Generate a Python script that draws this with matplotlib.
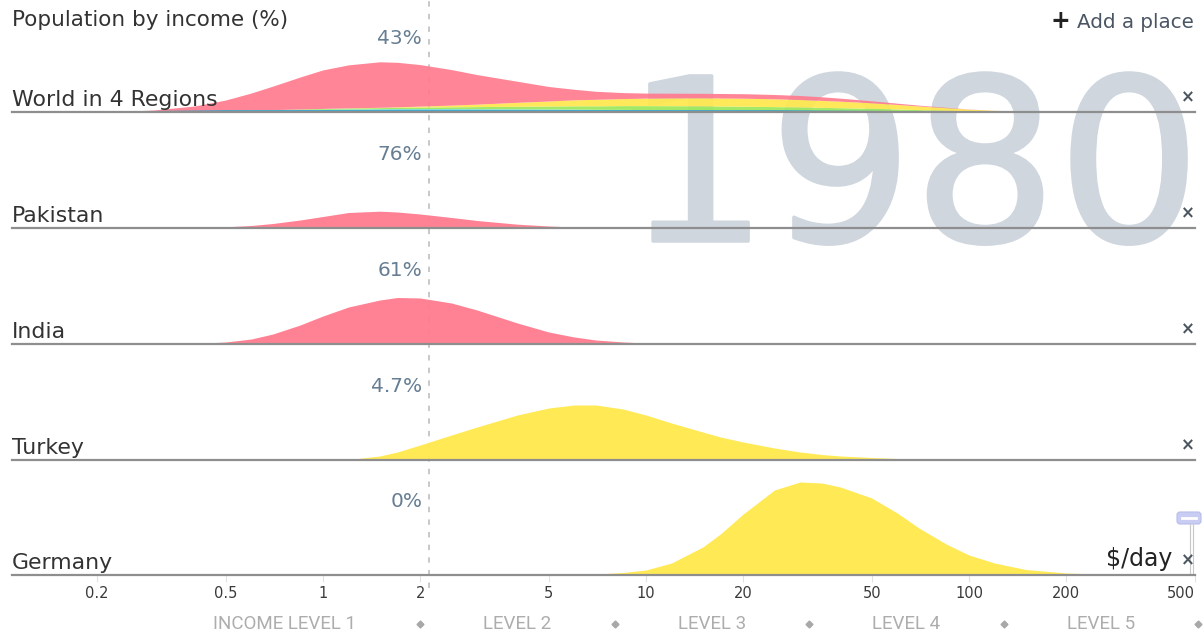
import numpy as np
import matplotlib
matplotlib.use("Agg")
import matplotlib.pyplot as plt
import matplotlib.patheffects as pe
from matplotlib.patches import FancyBboxPatch

plt.rcParams["font.family"] = ["DejaVu Sans"]

# income grid, $/day (log scale)
INCOME = [0.15, 0.2, 0.25, 0.3, 0.4, 0.5, 0.6, 0.7, 0.85, 1, 1.2, 1.5, 1.7, 2, 2.5, 3, 4, 5, 6, 7,
          8.5, 10, 12, 15, 17, 20, 25, 30, 35, 40, 50, 60, 70, 85, 100, 120, 150, 200, 300, 500]

# World in 4 Regions, stacked bottom -> top
WORLD_AFRICA = [0, 0, 0.1, 0.3, 0.8, 1.3, 1.7, 2, 2.4, 2.7, 3, 3.2, 3.3, 3.3, 3.3, 3.2, 3.1, 3, 2.9, 2.7,
                2.6, 2.4, 2.2, 2, 1.8, 1.6, 1.3, 1, 0.8, 0.7, 0.5, 0.3, 0.2, 0.1, 0, 0, 0, 0, 0, 0]
WORLD_AMERICAS = [0, 0, 0, 0, 0, 0.2, 0.3, 0.4, 0.6, 0.8, 1, 1.2, 1.4, 1.6, 1.9, 2.2, 2.6, 3, 3.3, 3.5,
                  3.8, 4, 4.1, 4.2, 4.2, 4.2, 4.1, 4, 3.8, 3.6, 3.2, 2.7, 2.2, 1.7, 1.2, 0.8, 0.4, 0.1, 0, 0]
WORLD_EUROPE = [0, 0, 0, 0, 0, 0, 0, 0, 0, 0.1, 0.15, 0.3, 0.5, 1, 1.7, 2.5, 4, 5, 6, 6.5,
                7, 7.5, 7.8, 8, 8, 8, 7.8, 7.5, 7, 6.5, 5.5, 4.5, 3.6, 2.5, 1.6, 0.9, 0.4, 0.1, 0, 0]
WORLD_ASIA = [0, 0.5, 0.9, 1.7, 5.2, 10.5, 17, 23.5, 32, 38.5, 43, 45.5, 44.5, 41.5, 35.5, 29.5, 21, 14.5, 10.5, 8,
              6, 5, 4.7, 4.5, 4.5, 4.5, 4.3, 4, 3.6, 3, 2, 1.3, 0.8, 0.4, 0.2, 0, 0, 0, 0, 0]

PAKISTAN = [0, 0, 0, 0.1, 0.5, 1.2, 2.5, 4.5, 8, 11.5, 15.5, 16.8, 16, 14, 10.5, 7.5, 3.8, 2, 1, 0.6,
            0.3, 0.1, 0, 0, 0, 0, 0, 0, 0, 0, 0, 0, 0, 0, 0, 0, 0, 0, 0, 0]
INDIA = [0, 0, 0, 0, 0.5, 2, 5, 10, 19, 28, 37, 44, 46.5, 46, 41, 34, 21, 12, 7, 4,
         2, 1, 0.4, 0.1, 0, 0, 0, 0, 0, 0, 0, 0, 0, 0, 0, 0, 0, 0, 0, 0]
TURKEY = [0, 0, 0, 0, 0, 0, 0, 0, 0, 0, 0.5, 4, 8, 15, 25, 33, 45, 52, 55, 55,
          51, 45, 37, 28, 23, 18, 12, 8, 5.5, 4, 2.5, 1.5, 1, 0.5, 0.2, 0.1, 0, 0, 0, 0]
GERMANY = [0, 0, 0, 0, 0, 0, 0, 0, 0, 0, 0, 0, 0, 0, 0, 0, 0, 0, 0.5, 1,
           2.5, 5, 12, 28, 41, 61, 85, 93, 92, 88, 77, 62, 47, 31, 20, 12, 5.5, 2, 0.3, 0]

ROW_NAMES = ["World in 4 Regions", "Pakistan", "India", "Turkey", "Germany"]
ROW_PCT = ["43%", "76%", "61%", "4.7%", "0%"]

TICKS = [0.2, 0.5, 1, 2, 5, 10, 20, 50, 100, 200, 500]
TICK_LABELS = ["0.2", "0.5", "1", "2", "5", "10", "20", "50", "100", "200", "500"]
LEVEL_MARKS = [2, 8, 32, 128, 512]
LEVEL_POS = [0.76, 4, 16, 64, 256]
LEVEL_LABELS = ["INCOME LEVEL 1", "LEVEL 2", "LEVEL 3", "LEVEL 4", "LEVEL 5"]
POVERTY_LINE = 2.13
YEAR = "1980"

PINK, YELLOW, GREEN, CYAN = "#ff7b8e", "#ffe84c", "#9be85a", "#55d2ea"

W, H = 1204, 635
fig = plt.figure(figsize=(W / 100, H / 100), dpi=100)
fig.patch.set_facecolor("white")


def px_axes(left, top, width, height, **kw):
    return fig.add_axes([left / W, 1 - (top + height) / H, width / W, height / H], **kw)


XL, XR = 12, 1195
XLIM = (0.109, 501)
ROW_H = 105
baselines = [112, 228, 344, 460, 575]

# background: year + dashed poverty line
bg = px_axes(0, 0, W, H)
bg.set_xlim(0, W); bg.set_ylim(H, 0); bg.axis("off")
bg.text(1201, 241, YEAR, fontsize=163, color="#cfd6de", ha="right", va="baseline", zorder=0,
        path_effects=[pe.withStroke(linewidth=2.5, foreground="#cfd6de")])

ov = px_axes(XL, 0, XR - XL, 588)
ov.set_xscale("log"); ov.set_xlim(*XLIM); ov.set_ylim(0, 1); ov.axis("off")
ov.axvline(POVERTY_LINE, color="#c4c4c4", lw=1.3, ls=(0, (3, 4)), zorder=1)

inc = np.array(INCOME)
row_series = [None, PAKISTAN, INDIA, TURKEY, GERMANY]
row_colors = [None, PINK, PINK, YELLOW, YELLOW]

axes = []
for i, base in enumerate(baselines):
    ax = px_axes(XL, base - ROW_H, XR - XL, ROW_H)
    ax.patch.set_alpha(0)
    ax.set_xscale("log")
    ax.set_xlim(*XLIM)
    ax.set_ylim(0, ROW_H)
    for s in ax.spines.values():
        s.set_visible(False)
    ax.set_yticks([])
    if i == 0:
        bottom = np.zeros(len(inc))
        for vals, col in [(WORLD_AFRICA, CYAN), (WORLD_AMERICAS, GREEN),
                          (WORLD_EUROPE, YELLOW), (WORLD_ASIA, PINK)]:
            top = bottom + np.array(vals)
            ax.fill_between(inc, bottom, top, color=col, alpha=0.92, lw=0, zorder=2)
            bottom = top
        ax.plot(inc, np.minimum(np.array(WORLD_AFRICA), 1.2), color="#3aa7cf", lw=1, zorder=3)
    else:
        ax.fill_between(inc, 0, row_series[i], color=row_colors[i], alpha=0.95, lw=0, zorder=2)
    ax.axhline(0, color="#8e8e8e", lw=1.6, zorder=4, clip_on=False)
    ax.text(0.0, 6, ROW_NAMES[i], transform=ax.get_yaxis_transform(), ha="left", va="baseline",
            fontsize=15.8, color="#333333", zorder=5)
    ax.text(2.03, 73, ROW_PCT[i], ha="right", va="center", fontsize=14.5, color="#667d92", zorder=5)
    fig.text(1188 / W, 1 - (base - 15) / H, "×", ha="center", va="center",
             fontsize=12, fontweight="bold", color="#4a5560")
    if i < 4:
        ax.set_xticks([])
        ax.minorticks_off()
    axes.append(ax)

ax = axes[-1]
ax.set_xticks(TICKS)
ax.set_xticklabels(TICK_LABELS)
ax.minorticks_off()
ax.tick_params(axis="x", length=5, color="#e2e2e2", pad=3, labelsize=10.5, labelcolor="#3a3a3a")
ax.get_xticklabels()[-1].set_ha("right")
ax.text(1172 / W, 1 - 566 / H, "$/day", transform=fig.transFigure, ha="right", va="baseline",
        fontsize=17, color="#222222")

xt = ax.get_xaxis_transform()
for m in LEVEL_MARKS:
    ax.plot([m], [-49 / ROW_H], marker="D", ms=3.5, color="#a8a8a8", transform=xt, clip_on=False)
for p, lab in zip(LEVEL_POS, LEVEL_LABELS):
    ax.text(p, -49 / ROW_H, lab, transform=xt, ha="center", va="center", fontsize=13.5,
            family="Roboto", color="#adadad")

# time slider handle near $/day
bg.add_patch(FancyBboxPatch((1177, 512), 24, 12, boxstyle="round,pad=0,rounding_size=3",
                            fc="#c9cdf3", ec="#b8bde8", lw=0.8, zorder=6))
bg.plot([1182, 1196], [518, 518], color="white", lw=2, zorder=7)
bg.plot([1190, 1190], [524, 575], color="#c8c8c8", lw=0.8, zorder=6)
bg.plot([1193, 1193], [524, 575], color="#c8c8c8", lw=0.8, zorder=6)

# header
fig.text(12 / W, 1 - 20 / H, "Population by income (%)", ha="left", va="center",
         fontsize=15.5, color="#333333")
fig.text(1194 / W, 1 - 22 / H, "Add a place", ha="right", va="center", fontsize=14.3,
         color="#4a5563")
fig.text(1060 / W, 1 - 21 / H, "+", ha="center", va="center", fontsize=17, fontweight="bold",
         color="#222222")

fig.savefig("out.png", dpi=100, facecolor="white")
